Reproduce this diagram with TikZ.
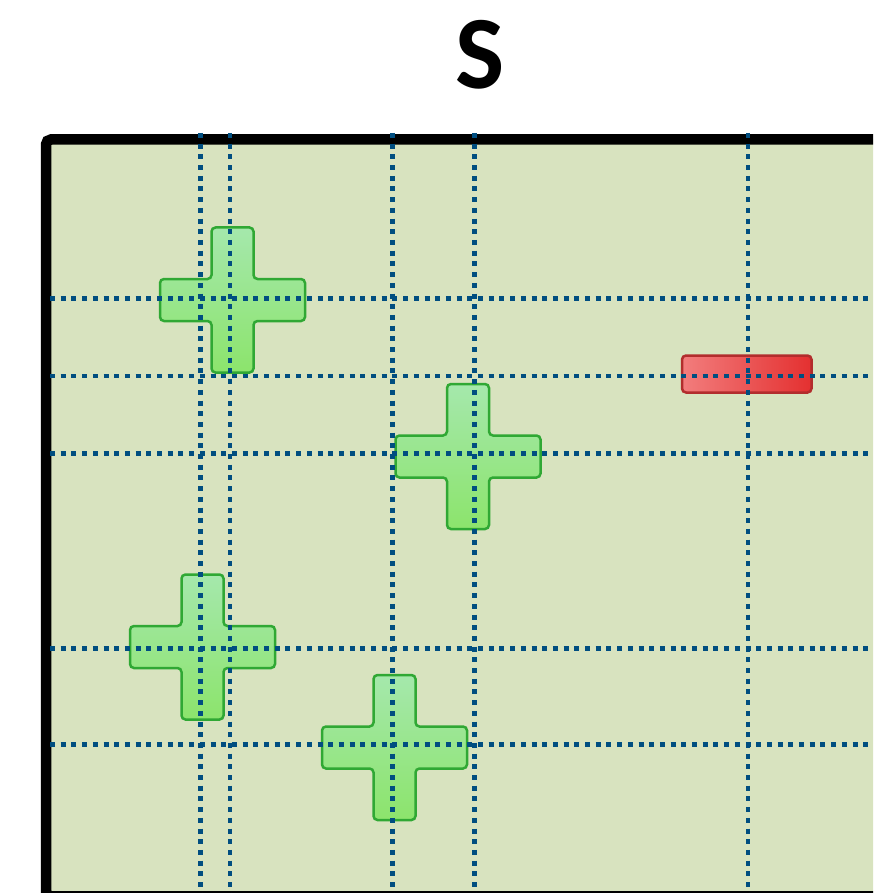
\documentclass[tikz,border=0pt]{standalone}
\usepackage{fontspec}
\setmainfont{Carlito}
\definecolor{boxfill}{RGB}{216,227,191}
\definecolor{gridblue}{RGB}{0,78,128}
\definecolor{plusedge}{RGB}{48,168,52}
\definecolor{plustop}{RGB}{165,232,172}
\definecolor{plusbot}{RGB}{140,228,108}
\definecolor{minusedge}{RGB}{178,45,45}
\definecolor{minusleft}{RGB}{242,125,125}
\definecolor{minusright}{RGB}{228,48,48}

\tikzset{
  gridline/.style={gridblue,line width=4.6pt,dash pattern=on 5pt off 5.7pt},
  plusmark/.style={draw=plusedge,line width=2.5pt,rounded corners=4pt,
    top color=plustop,bottom color=plusbot},
  minusmark/.style={draw=minusedge,line width=2.5pt,rounded corners=4pt,
    left color=minusleft,right color=minusright},
  pluspic/.pic={
    \path[plusmark] (-21,-72.5) -- (21,-72.5) -- (21,-21) -- (72.5,-21)
      -- (72.5,21) -- (21,21) -- (21,72.5) -- (-21,72.5) -- (-21,21)
      -- (-72.5,21) -- (-72.5,-21) -- (-21,-21) -- cycle;
  }
}

\begin{document}
\begin{tikzpicture}[x=1pt,y=-1pt]
  \useasboundingbox (0,0) rectangle (873,893);
  \clip (0,0) rectangle (873,893);
  % title
  \node (title) at (480,55) {\fontsize{104}{104}\selectfont\bfseries S};
  % sample box
  \draw[line width=10.5pt,rounded corners=5pt,fill=boxfill] (46,139.5) rectangle (920,896.3);
  % positive and negative samples
  \foreach \px/\py in {232.5/300, 468/456.5, 202.5/647, 394.5/747.5}
    \pic at (\px,\py) {pluspic};
  \path[minusmark] (682,355.5) rectangle (811.5,392.5);
  % dotted grid
  \foreach \gx in {200.7,230,392.7,474.2,748}
    \draw[gridline] (\gx,133) -- (\gx,893);
  \foreach \gy in {298.5,376,453.7,648.3,744.3}
    \draw[gridline] (50,\gy) -- (873,\gy);
\end{tikzpicture}
\end{document}
